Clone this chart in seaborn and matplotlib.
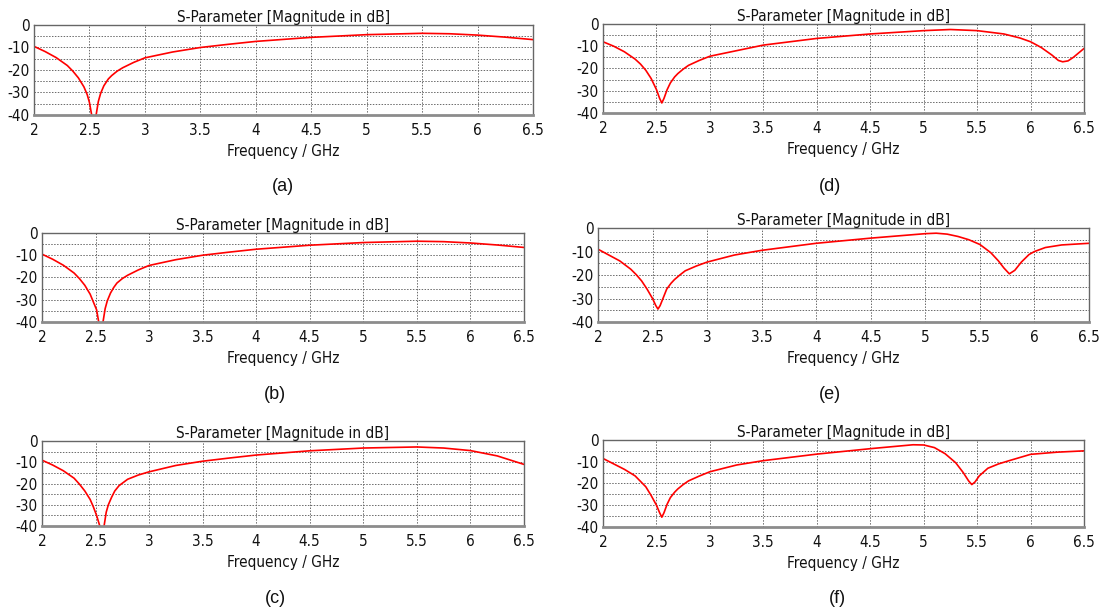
import matplotlib
matplotlib.use("Agg")
import matplotlib.pyplot as plt
import seaborn as sns
import pandas as pd
from matplotlib.ticker import MultipleLocator, FuncFormatter

# ---- data (GHz, dB) ----
freq_a = [2.0, 2.1, 2.2, 2.3, 2.35, 2.4, 2.45, 2.48, 2.5, 2.52, 2.54, 2.56, 2.58, 2.6, 2.63,
          2.67, 2.7, 2.75, 2.8, 2.9, 3.0, 3.25, 3.5, 3.75, 4.0, 4.5, 5.0, 5.5, 5.75, 6.0,
          6.25, 6.5]
s11_a = [-9.5, -11.8, -14.5, -18, -20.5, -23.5, -27.5, -31, -34.5, -40, -46, -40, -34, -30.5,
         -27, -24, -22.5, -20.5, -19, -16.6, -14.6, -12, -10, -8.6, -7.3, -5.5, -4.3, -3.7,
         -3.9, -4.5, -5.4, -6.5]

freq_b = [2.0, 2.1, 2.2, 2.3, 2.35, 2.4, 2.45, 2.48, 2.51, 2.53, 2.55, 2.57, 2.59, 2.61,
          2.64, 2.67, 2.7, 2.75, 2.8, 2.9, 3.0, 3.25, 3.5, 3.75, 4.0, 4.5, 5.0, 5.5, 5.75,
          6.0, 6.25, 6.5]
s11_b = [-9.5, -11.8, -14.5, -18, -20.5, -23.5, -27.5, -31, -34.5, -40, -46, -40, -34, -30.5,
         -27, -24.5, -22.5, -20.5, -19, -16.6, -14.6, -12, -10, -8.6, -7.3, -5.5, -4.3, -3.7,
         -3.9, -4.5, -5.4, -6.5]

freq_c = [2.0, 2.1, 2.2, 2.3, 2.35, 2.4, 2.45, 2.48, 2.51, 2.54, 2.56, 2.58, 2.6, 2.62,
          2.65, 2.68, 2.72, 2.8, 2.9, 3.0, 3.25, 3.5, 3.75, 4.0, 4.5, 5.0, 5.5, 5.75, 6.0,
          6.25, 6.5]
s11_c = [-9, -11.3, -14, -17.5, -20.3, -23.5, -27.5, -31, -35, -40, -46, -40, -33.5, -30,
         -26.5, -23.5, -21, -18, -16, -14.5, -11.5, -9.5, -8, -6.6, -4.6, -3.3, -2.8, -3.3,
         -4.5, -7, -11]

freq_d = [2.0, 2.1, 2.2, 2.3, 2.35, 2.4, 2.45, 2.5, 2.53, 2.55, 2.57, 2.6, 2.63, 2.67, 2.7,
          2.75, 2.8, 2.9, 3.0, 3.25, 3.5, 3.75, 4.0, 4.5, 5.0, 5.25, 5.5, 5.75, 5.9, 6.0,
          6.1, 6.2, 6.26, 6.3, 6.35, 6.4, 6.5]
s11_d = [-8, -10, -12.5, -15.8, -18, -20.8, -24.5, -29.5, -33.5, -35.5, -33.5, -29.5, -26.5,
         -23.8, -22.3, -20.3, -18.6, -16.4, -14.5, -12, -9.5, -8, -6.5, -4.5, -3, -2.5, -3,
         -4.5, -6.3, -8, -10.6, -14, -16.4, -17, -16.6, -15, -11]

freq_e = [2.0, 2.1, 2.2, 2.3, 2.35, 2.4, 2.45, 2.5, 2.53, 2.55, 2.57, 2.6, 2.63, 2.67, 2.7,
          2.75, 2.8, 2.9, 3.0, 3.25, 3.5, 3.75, 4.0, 4.5, 5.0, 5.1, 5.2, 5.3, 5.4, 5.5, 5.6,
          5.67, 5.72, 5.77, 5.82, 5.88, 5.95, 6.0, 6.1, 6.25, 6.5]
s11_e = [-9, -11.5, -14, -17.5, -19.8, -22.5, -26, -30, -33, -34.5, -33, -29.5, -26, -23.5,
         -22, -20, -18.2, -16.2, -14.5, -11.5, -9.5, -8, -6.5, -4.3, -2.4, -2.2, -2.6, -3.6,
         -5, -7, -10.5, -14, -17, -19.5, -18, -14.5, -11.3, -10, -8.3, -7.2, -6.5]

freq_f = [2.0, 2.1, 2.2, 2.3, 2.35, 2.4, 2.45, 2.5, 2.53, 2.55, 2.57, 2.6, 2.63, 2.67, 2.7,
          2.75, 2.8, 2.9, 3.0, 3.25, 3.5, 3.75, 4.0, 4.5, 4.9, 5.0, 5.1, 5.2, 5.3, 5.37,
          5.42, 5.45, 5.48, 5.52, 5.6, 5.7, 5.8, 6.0, 6.25, 6.5]
s11_f = [-8.5, -11, -13.5, -16.5, -19, -21.5, -25.5, -30, -33.5, -35.5, -33.5, -29.5, -26.5,
         -24, -22.5, -20.5, -18.8, -16.6, -14.6, -11.5, -9.5, -8, -6.5, -4, -2.2, -2.3, -3.5,
         -6.3, -10.5, -15, -18.8, -20.5, -19.3, -16.5, -13, -11, -9.5, -6.6, -5.6, -5]

captions = ["(a)", "(b)", "(c)", "(d)", "(e)", "(f)"]
freqs = [freq_a, freq_b, freq_c, freq_d, freq_e, freq_f]
s11s = [s11_a, s11_b, s11_c, s11_d, s11_e, s11_f]

# axes rectangles [left, bottom, width, height] and caption anchors (fig fraction)
rects = [
    [0.0309, 0.8118, 0.4532, 0.1473],
    [0.0381, 0.4730, 0.4378, 0.1457],
    [0.0381, 0.1391, 0.4378, 0.1391],
    [0.5477, 0.8151, 0.4369, 0.1457],
    [0.5431, 0.4730, 0.4460, 0.1538],
    [0.5477, 0.1375, 0.4369, 0.1424],
]
cap_xy = [(0.257, 0.694), (0.250, 0.354), (0.250, 0.021),
          (0.754, 0.694), (0.754, 0.354), (0.761, 0.021)]

sns.set_theme(style="white")
plt.rcParams["font.family"] = ["DejaVu Sans"]
plt.rcParams["font.stretch"] = "condensed"
plt.rcParams["axes.unicode_minus"] = False

fig = plt.figure(figsize=(11.01, 6.11), dpi=100)
fig.patch.set_facecolor("white")

for cap, f, s, rect, (cx, cy) in zip(captions, freqs, s11s, rects, cap_xy):
    ax = fig.add_axes(rect)
    df = pd.DataFrame({"freq": f, "s11": s})
    sns.lineplot(data=df, x="freq", y="s11", ax=ax, color="#ff0000", linewidth=1.2)
    ax.set_xlim(2, 6.5)
    ax.set_ylim(-40, 0)
    ax.xaxis.set_major_locator(MultipleLocator(0.5))
    ax.yaxis.set_major_locator(MultipleLocator(10))
    ax.yaxis.set_minor_locator(MultipleLocator(5))
    ax.xaxis.set_major_formatter(FuncFormatter(lambda v, p: f"{v:g}"))
    ax.grid(True, which="both", linestyle=(0, (1.5, 1.5)), color="#6a6a6a", linewidth=0.7)
    ax.tick_params(axis="x", which="both", length=0, labelsize=11, pad=6, colors="#111111")
    ax.tick_params(axis="y", which="both", length=0, labelsize=11, pad=3, colors="#111111")
    for side in ["left", "top", "right"]:
        ax.spines[side].set_color("#666666")
        ax.spines[side].set_linewidth(1.0)
    ax.spines["bottom"].set_color("#8c8c8c")
    ax.spines["bottom"].set_linewidth(2.0)
    ax.set_ylabel("")
    ax.set_xlabel("Frequency / GHz", fontsize=11, labelpad=4, color="#111111")
    ax.set_title("S-Parameter [Magnitude in dB]", fontsize=11, pad=2, color="#111111")
    fig.text(cx, cy, cap, ha="center", va="center", fontsize=13,
             family=["Liberation Sans", "DejaVu Sans"], color="#111111")

fig.savefig("out.png", dpi=100)
